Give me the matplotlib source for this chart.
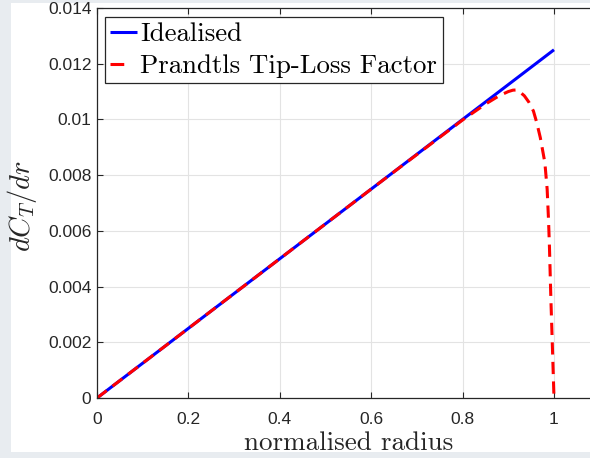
import matplotlib
matplotlib.use('Agg')
import matplotlib.pyplot as plt
from matplotlib.patches import Rectangle

# Idealised thrust distribution (straight line)
r_ideal = [0.0, 1.0]
dct_ideal = [0.0, 0.0125]

# With Prandtl tip-loss factor
r_tip = [0.0, 0.2, 0.4, 0.6, 0.8, 0.85, 0.88, 0.90, 0.91, 0.92, 0.935,
         0.945, 0.955, 0.962, 0.97, 0.98, 0.985, 0.988, 0.99, 0.993,
         0.996, 1.0]
dct_tip = [0.0, 0.0025, 0.005, 0.0075, 0.00998, 0.01055, 0.01085, 0.01100,
           0.01105, 0.01106, 0.01085, 0.01062, 0.01030, 0.00990, 0.00935,
           0.00845, 0.00750, 0.00640, 0.00545, 0.00365, 0.00210, 0.0]

xticks = [0, 0.2, 0.4, 0.6, 0.8, 1.0]
xticklabels = ['0', '0.2', '0.4', '0.6', '0.8', '1']
yticks = [0, 0.002, 0.004, 0.006, 0.008, 0.010, 0.012, 0.014]
yticklabels = ['0', '0.002', '0.004', '0.006', '0.008', '0.01', '0.012', '0.014']

plt.rcParams['mathtext.fontset'] = 'cm'
plt.rcParams['axes.unicode_minus'] = False

W, H = 590, 458
fig = plt.figure(figsize=(W / 100, H / 100), dpi=100)
fig.patch.set_facecolor('#e8ecf0')
bg = Rectangle((11 / W, (H - 452) / H), 1 - 11 / W, 449 / H,
               transform=fig.transFigure, facecolor='white',
               edgecolor='none', zorder=-10)
fig.add_artist(bg)

# axes run past the right edge of the picture, as in the reference
ax = fig.add_axes([97 / W, (H - 398) / H, 1.1 * 457 / W, 390 / H])
ax.set_zorder(5)
ax.set_facecolor('white')

ax.plot(r_ideal, dct_ideal, color='#0000ff', lw=2.2, label='Idealised',
        solid_capstyle='butt')
ax.plot(r_tip, dct_tip, color='#ff0000', lw=2.2, dashes=(4, 2.4),
        label='Prandtls Tip-Loss Factor')

ax.set_xlim(0, 1.1)
ax.set_ylim(0, 0.014)
ax.set_xticks(xticks)
ax.set_xticklabels(xticklabels)
ax.set_yticks(yticks)
ax.set_yticklabels(yticklabels)

for lab in ax.get_xticklabels() + ax.get_yticklabels():
    lab.set_family('Liberation Sans')
    lab.set_fontsize(12.5)
    lab.set_color('#262626')

ax.tick_params(direction='in', length=4, width=0.8, color='#262626',
               top=True, right=True)
ax.tick_params(axis='x', pad=10)
ax.tick_params(axis='y', pad=4)
ax.grid(True, color='#e3e3e3', lw=0.8)
ax.set_axisbelow(True)
for s in ax.spines.values():
    s.set_color('#262626')
    s.set_linewidth(0.9)

ax.set_xlabel('normalised radius', family='cmr10', fontsize=19.5,
              color='#262626')
ax.xaxis.label.set_va('baseline')
ax.xaxis.set_label_coords(0.5, -(450 - 398) / 390)

ax.set_ylabel(r'$dC_T/dr$', fontsize=20.5, color='#262626')
ax.yaxis.label.set_va('baseline')
ax.yaxis.set_label_coords((30 - 97) / (1.1 * 457), (398 - 206) / 390)

leg = ax.legend(loc='upper left', bbox_to_anchor=(0.016, 0.977),
                borderaxespad=0, fancybox=False, framealpha=1,
                edgecolor='#262626', handlelength=1.0, handletextpad=0.12,
                borderpad=0.2, labelspacing=0.3,
                prop={'family': 'cmr10', 'size': 19.3})
leg.get_frame().set_linewidth(0.9)
leg.get_lines()[1].set_dashes((4.5, 10))

fig.savefig('out.png', dpi=100, facecolor=fig.get_facecolor())
